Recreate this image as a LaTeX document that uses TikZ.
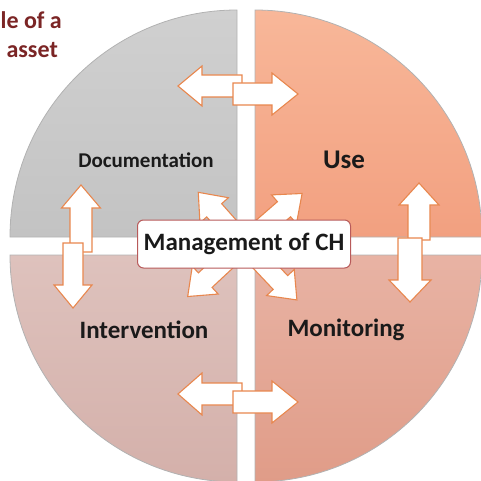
\documentclass[tikz,border=0pt]{standalone}
\usepackage{fontspec}
\setmainfont{Carlito}
\definecolor{qgrayA}{HTML}{D0D0D0}
\definecolor{qgrayB}{HTML}{C3C3C3}
\definecolor{qorA}{HTML}{F8B799}
\definecolor{qorB}{HTML}{F2A080}
\definecolor{qpkA}{HTML}{DEC2BD}
\definecolor{qpkB}{HTML}{D4B0AA}
\definecolor{qsaA}{HTML}{E8B3A4}
\definecolor{qsaB}{HTML}{E09C88}
\definecolor{arrline}{HTML}{E8874E}
\definecolor{boxline}{HTML}{B85A5A}
\definecolor{titlecol}{HTML}{7B2525}
\definecolor{labelcol}{HTML}{1A1A1A}
\tikzset{
  quad/.style={draw=black!30, line width=0.8pt},
  arr/.style={draw=arrline, fill=white, line width=1.1pt, line join=miter},
  lbl/.style={text=labelcol, font=\bfseries\fontsize{25}{30}\selectfont, inner sep=0pt},
  ttl/.style={text=titlecol, font=\bfseries\fontsize{24}{28}\selectfont, inner sep=0pt, anchor=base east},
  mgmt/.style={draw=boxline, fill=white, line width=1pt, rounded corners=6pt,
    minimum width=213pt, minimum height=48pt, inner sep=0pt, text=labelcol,
    font=\bfseries\fontsize{25}{30}\selectfont}
}
% #1,#2 start; #3 angle; #4 length; #5 shaft; #6 head width; #7 head length
\newcommand\barrow[7]{\draw[arr,shift={(#1,#2)},rotate=#3]
  (0,{-#5/2}) -- ({#4-#7},{-#5/2}) -- ({#4-#7},{-#6/2}) -- (#4,0)
  -- ({#4-#7},{#6/2}) -- ({#4-#7},{#5/2}) -- (0,{#5/2}) -- cycle;}
\begin{document}
\begin{tikzpicture}[x=1pt,y=1pt]
\useasboundingbox (0,0) rectangle (481,480);
\clip (0,0) rectangle (481,480);
% quadrants
\shade[top color=qgrayA, bottom color=qgrayB] (237,243) -- ++(-227,0) arc[start angle=180,end angle=90,radius=227pt] -- cycle;
\draw[quad] (237,243) -- ++(-227,0) arc[start angle=180,end angle=90,radius=227pt] -- cycle;
\shade[top color=qorA, bottom color=qorB] (255,243) -- ++(0,227) arc[start angle=90,end angle=0,radius=227pt] -- cycle;
\draw[quad] (255,243) -- ++(0,227) arc[start angle=90,end angle=0,radius=227pt] -- cycle;
\shade[top color=qpkA, bottom color=qpkB] (237,225) -- ++(-227,0) arc[start angle=180,end angle=270,radius=227pt] -- cycle;
\draw[quad] (237,225) -- ++(-227,0) arc[start angle=180,end angle=270,radius=227pt] -- cycle;
\shade[top color=qsaA, bottom color=qsaB] (255,225) -- ++(227,0) arc[start angle=0,end angle=-90,radius=227pt] -- cycle;
\draw[quad] (255,225) -- ++(227,0) arc[start angle=0,end angle=-90,radius=227pt] -- cycle;
% title fragment
\node[ttl] (t1) at (62,451) {le of a};
\node[ttl] (t2) at (58,422) {asset};
% diagonal arrows from centre
\barrow{244}{236}{131.5}{69}{20}{38}{24}
\barrow{244}{236}{41}{77}{20}{38}{24}
\barrow{244}{236}{223}{77}{20}{38}{24}
\barrow{244}{236}{313.4}{77}{20}{38}{24}
% centre box
\node[mgmt] (m) at (244,236) {Management of CH};
% top horizontal pair
\barrow{242}{394}{180}{64}{22}{40}{24}
\barrow{233}{386}{0}{65}{22}{42}{26}
% bottom horizontal pair
\barrow{242}{86}{180}{64}{22}{42}{24}
\barrow{233}{78}{0}{65}{22}{42}{26}
% right vertical pair
\barrow{419}{240}{90}{57}{22}{40}{22}
\barrow{410}{242}{270}{64}{24}{42}{22}
% left vertical pair
\barrow{81}{228}{90}{67}{22}{39}{23}
\barrow{73}{237}{270}{65}{20}{38}{23}
% labels
\node[lbl, font=\bfseries\fontsize{21}{25}\selectfont] (doc) at (146,320) {Documentation};
\node[lbl, font=\bfseries\fontsize{27}{32}\selectfont] (use) at (344,320) {Use};
\node[lbl] (int) at (144,150) {Intervention};
\node[lbl] (mon) at (346,150) {Monitoring};
\end{tikzpicture}
\end{document}
